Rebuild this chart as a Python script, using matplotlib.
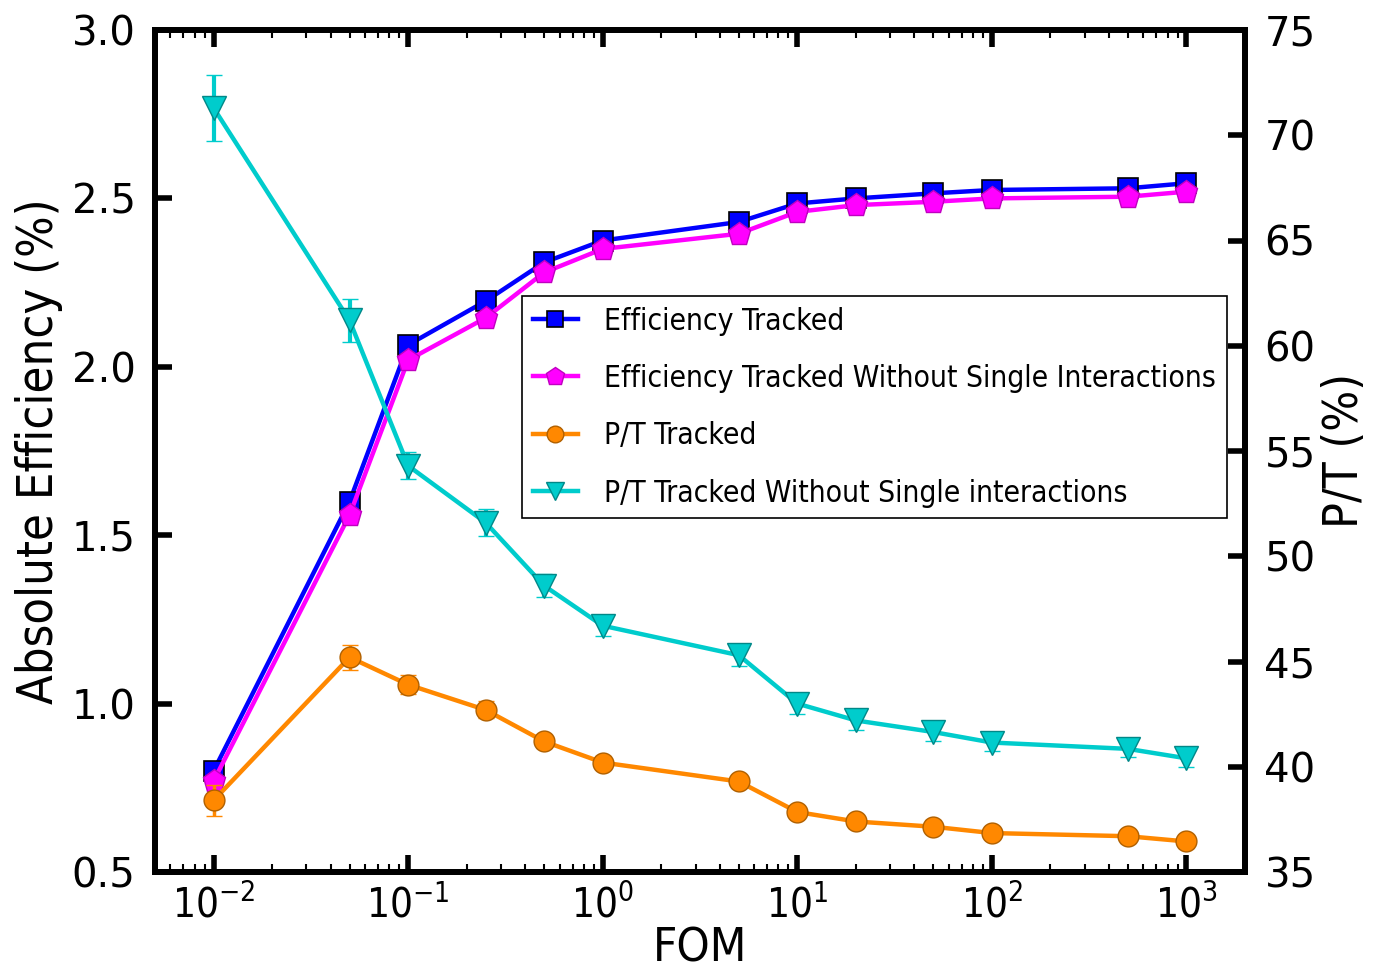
import numpy as np
import matplotlib
matplotlib.use("Agg")
import matplotlib.pyplot as plt
from matplotlib.ticker import LogLocator, NullFormatter
from matplotlib.font_manager import FontProperties

fom = [0.01, 0.05, 0.1, 0.25, 0.5, 1, 5, 10, 20, 50, 100, 500, 1000]

eff_tracked = [0.80, 1.60, 2.065, 2.195, 2.31, 2.375, 2.43, 2.485, 2.50, 2.515, 2.525, 2.53, 2.545]
eff_nosingle = [0.77, 1.56, 2.02, 2.145, 2.28, 2.35, 2.395, 2.46, 2.48, 2.49, 2.50, 2.505, 2.52]

pt_tracked = [38.4, 45.2, 43.9, 42.7, 41.2, 40.2, 39.3, 37.85, 37.4, 37.15, 36.85, 36.7, 36.45]
pt_tracked_err = [0.75, 0.6, 0.45, 0.4, 0.3, 0.3, 0.3, 0.3, 0.3, 0.3, 0.3, 0.3, 0.3]

pt_nosingle = [71.3, 61.2, 54.3, 51.6, 48.6, 46.7, 45.3, 43.0, 42.2, 41.65, 41.15, 40.85, 40.4]
pt_nosingle_err = [1.57, 1.0, 0.65, 0.65, 0.55, 0.5, 0.5, 0.5, 0.45, 0.45, 0.4, 0.4, 0.4]

labels = ["Efficiency Tracked",
          "Efficiency Tracked Without Single Interactions",
          "P/T Tracked",
          "P/T Tracked Without Single interactions"]

def narrow(size):
    return FontProperties(family='DejaVu Sans', stretch='condensed', size=size)

fig = plt.figure(figsize=(13.75, 9.76), dpi=100)
ax1 = fig.add_axes([155/1375, 1 - 872/976, 1090/1375, 842/976])
ax2 = ax1.twinx()

l1, = ax1.plot(fom, eff_tracked, '-s', color='#0000ff', lw=3.2, ms=15,
               mfc='#0000ff', mec='black', mew=1.2, label=labels[0])
l2, = ax1.plot(fom, eff_nosingle, '-p', color='#ff00ff', lw=3.2, ms=17,
               mfc='#ff00ff', mec='#c000c0', mew=1, label=labels[1])

e3 = ax2.errorbar(fom, pt_tracked, yerr=pt_tracked_err, fmt='-o', color='#ff8800',
                  lw=3.2, ms=15, mfc='#ff8800', mec='#b06000', mew=1,
                  elinewidth=2.5, capsize=6, capthick=2, label=labels[2])
e4 = ax2.errorbar(fom, pt_nosingle, yerr=pt_nosingle_err, fmt='-v', color='#00cccc',
                  lw=3.2, ms=17, mfc='#00cccc', mec='#008888', mew=1,
                  elinewidth=3, capsize=6, capthick=2, label=labels[3])

ax1.set_xscale('log')
ax1.set_xlim(0.005, 2000)
ax1.set_ylim(0.5, 3.0)
ax2.set_ylim(35, 75)
ax1.set_yticks(np.arange(0.5, 3.01, 0.5))
ax2.set_yticks(np.arange(35, 76, 5))

ax1.xaxis.set_major_locator(LogLocator(base=10, numticks=10))
ax1.xaxis.set_minor_locator(LogLocator(base=10, subs=np.arange(2, 10), numticks=20))
ax1.xaxis.set_minor_formatter(NullFormatter())

ax1.tick_params(axis='x', which='major', direction='in', top=True, length=12, width=4, pad=10)
ax1.tick_params(axis='x', which='minor', direction='in', top=True, length=6, width=1.5)
ax1.tick_params(axis='y', which='major', direction='in', left=True, right=False,
                length=12, width=4, labelsize=29, pad=14)
ax2.tick_params(axis='y', which='major', direction='in', length=12, width=4,
                labelsize=29, pad=14)

for lab in ax1.get_xticklabels():
    lab.set_fontproperties(narrow(29))

for ax in (ax1, ax2):
    for sp in ax.spines.values():
        sp.set_linewidth(4.2)

ax1.set_xlabel("FOM", fontproperties=narrow(34), labelpad=0)
ax1.set_ylabel("Absolute Efficiency (%)", fontproperties=narrow(35), labelpad=6)
ax2.set_ylabel("P/T (%)", fontproperties=narrow(34.5), labelpad=4)

leg = ax2.legend([l1, l2, e3[0], e4[0]], labels,
                 loc='upper left', bbox_to_anchor=(0.337, 0.684),
                 prop=narrow(21.5), handlelength=1.5,
                 labelspacing=0.95, borderpad=0.35, handletextpad=0.9,
                 fancybox=False, framealpha=1, markerscale=0.8, borderaxespad=0)
leg.get_frame().set_edgecolor('black')
leg.get_frame().set_linewidth(1.2)

plt.savefig("out.png", dpi=100)
